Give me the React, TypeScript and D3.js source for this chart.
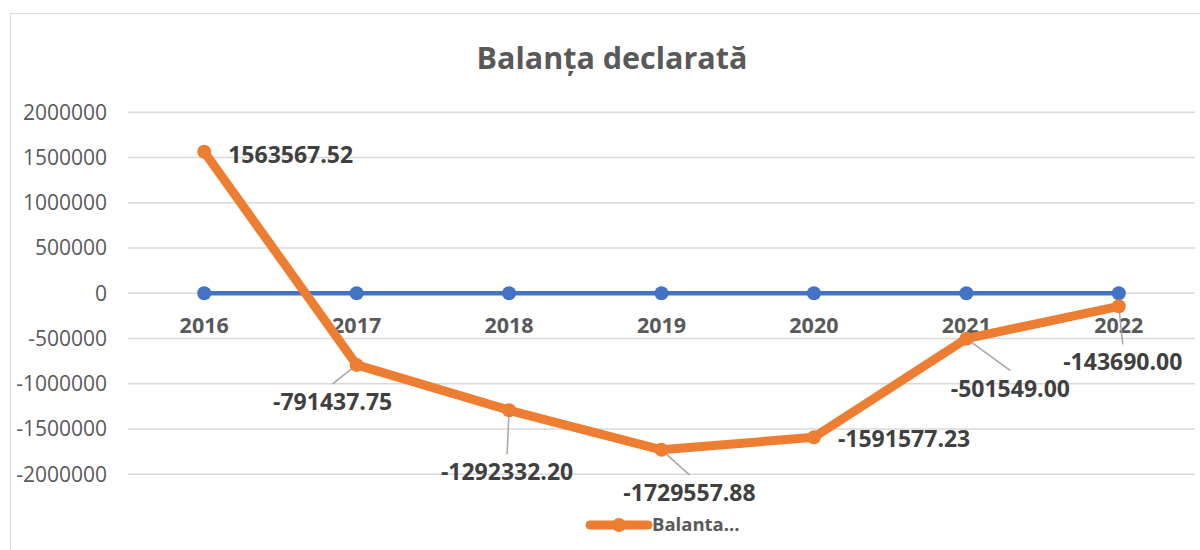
import React from "react";
import * as d3 from "d3";

const categories = ["2016", "2017", "2018", "2019", "2020", "2021", "2022"];
const balantaValues = [1563567.52, -791437.75, -1292332.2, -1729557.88, -1591577.23, -501549.0, -143690.0];
const zeroSeries = [0, 0, 0, 0, 0, 0, 0];
const yTicks = [2000000, 1500000, 1000000, 500000, 0, -500000, -1000000, -1500000, -2000000];
const seriesName = "Balanta...";
const title = "Balanța declarată";

// label placement (layout only): dx, dy from the point, anchor, leader line
const labelLayout = [
  { dx: 24, dy: 3, anchor: "start", leader: false },
  { dx: -24, dy: 37, anchor: "middle", leader: true },
  { dx: -2, dy: 62, anchor: "middle", leader: true },
  { dx: 28, dy: 43, anchor: "middle", leader: true },
  { dx: 24, dy: 2, anchor: "start", leader: false },
  { dx: 44, dy: 50, anchor: "middle", leader: true },
  { dx: 4, dy: 56, anchor: "middle", leader: true },
];

const W = 1200;
const H = 550;
const plotLeft = 128;
const plotRight = 1195;

export default function App() {
  const x = d3.scaleBand().domain(categories).range([plotLeft, plotRight]);
  const y = d3.scaleLinear().domain([-2000000, 2000000]).range([474.3, 112.3]);
  const cx = (c: string) => (x(c) as number) + x.bandwidth() / 2;
  const line = d3
    .line<number>()
    .x((_, i) => cx(categories[i]))
    .y((d) => y(d));
  const font = "'Open Sans', Lato, sans-serif";
  const gray = "#595959";

  return (
    <svg
      width={W}
      height={H}
      style={{ position: "absolute", left: 0, top: 0, background: "#fff" }}
    >
      <rect x={10.5} y={13.5} width={1300} height={600} fill="#fff" stroke="#D9D9D9" strokeWidth={1} />
      <text x={612} y={58} dy="0.35em" textAnchor="middle" fontFamily={font} fontWeight={700} fontSize={30.5} fill={gray}>
        {title}
      </text>
      {yTicks.map((t) => (
        <g key={t}>
          <line x1={plotLeft} x2={plotRight} y1={y(t)} y2={y(t)} stroke="#D9D9D9" strokeWidth={1.5} />
          <text x={107} y={y(t)} dy="0.35em" textAnchor="end" fontFamily={font} fontSize={21} fill={gray}>
            {t}
          </text>
        </g>
      ))}
      {categories.map((c) => (
        <text key={c} x={cx(c)} y={y(0) + 32} dy="0.35em" textAnchor="middle" fontFamily={font} fontWeight={700} fontSize={21.5} fill={gray}>
          {c}
        </text>
      ))}
      {/* zero series */}
      <path d={line(zeroSeries) || ""} fill="none" stroke="#4472C4" strokeWidth={4.5} />
      {zeroSeries.map((v, i) => (
        <circle key={i} cx={cx(categories[i])} cy={y(v)} r={7} fill="#4472C4" />
      ))}
      {/* leader lines */}
      {balantaValues.map((v, i) => {
        const L = labelLayout[i];
        if (!L.leader) return null;
        const px = cx(categories[i]);
        const py = y(v);
        const lx = px + L.dx;
        const ly = py + L.dy - 18;
        return <line key={"l" + i} x1={px} y1={py} x2={lx} y2={ly} stroke="#A6A6A6" strokeWidth={1.5} />;
      })}
      <path d={line(balantaValues) || ""} fill="none" stroke="#ED7D31" strokeWidth={9} strokeLinejoin="round" />
      {balantaValues.map((v, i) => (
        <circle key={i} cx={cx(categories[i])} cy={y(v)} r={7} fill="#ED7D31" />
      ))}
      {balantaValues.map((v, i) => {
        const L = labelLayout[i];
        return (
          <text
            key={"t" + i}
            x={cx(categories[i]) + L.dx}
            y={y(v) + L.dy}
            dy="0.35em"
            textAnchor={L.anchor as any}
            fontFamily={font}
            fontWeight={700}
            fontSize={23}
            fill="#404040"
          >
            {v.toFixed(2)}
          </text>
        );
      })}
      {/* legend */}
      <line x1={590} x2={648} y1={525} y2={525} stroke="#ED7D31" strokeWidth={9} strokeLinecap="round" />
      <circle cx={619} cy={525} r={7} fill="#ED7D31" />
      <text x={652} y={525} dy="0.35em" fontFamily={font} fontWeight={700} fontSize={18.5} fill={gray}>
        {seriesName}
      </text>
    </svg>
  );
}
